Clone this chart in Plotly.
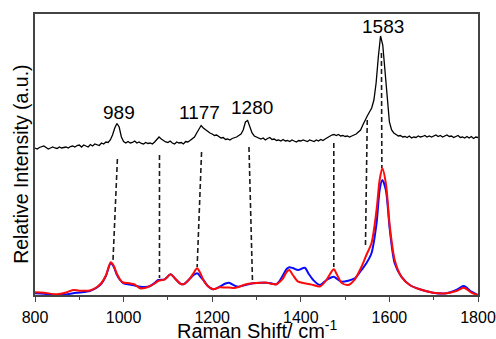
import plotly.graph_objects as go

# ---------------- data ----------------
# upper (black) spectrum, sampled every 5 cm-1 from 800 to 1800
top_x = list(range(800, 1801, 5))
top_y = [
    147, 146, 147.5, 148, 149, 147.5, 146, 147, 148, 147,
    146.5, 148, 147, 147.5, 148, 147, 148.5, 149, 148, 149.5,
    150, 148, 150, 149, 148, 150.5, 149, 151, 150, 149.5,
    152, 151, 153, 152.5, 155, 160, 167, 171.5, 168, 158,
    153.5, 152, 153.5, 152, 152.5, 154, 152, 153, 151.5, 151,
    152.5, 151.5, 152, 151, 153, 156, 158, 156, 154, 153,
    152.5, 154, 152, 151, 153, 152, 152.5, 151, 153.5, 153,
    154.5, 156, 158, 162, 166, 169.5, 167, 165, 163.5, 162,
    161, 159.5, 160, 158, 157, 157.5, 155.5, 156, 155, 156.5,
    157, 158, 159.5, 161, 165, 173, 174.5, 168, 162, 159,
    158, 157, 156, 157, 155, 156.5, 157.5, 155.5, 156, 154.5,
    155, 154, 155.5, 154, 154.5, 153.5, 155, 154, 153, 154.5,
    154, 155, 154, 153.5, 155, 154.5, 153.5, 155, 154, 155.5,
    154.5, 156, 157.5, 158.5, 160, 160.5, 159.5, 160.5, 159, 159.5,
    158.5, 159, 158, 159, 160, 161, 163, 165, 170, 175,
    179, 183, 187, 195, 212, 238, 259, 250, 224, 195,
    173, 165, 162, 160.5, 159, 159.5, 158, 158.5, 157.5, 159,
    157, 158, 157.5, 159, 158, 158.5, 159.5, 158, 159, 158,
    159, 160, 158.5, 159.5, 158, 159, 160, 158.5, 159, 157.5,
    158.5, 159.5, 157.5, 158, 157, 158.5, 157, 158.5, 156.5, 158,
    157.5,
]

# lower spectra (blue and red)
low_x = [800, 820, 850, 870, 886, 900, 924, 940, 950, 960,
         971, 978, 984, 992, 999, 1014, 1025, 1037, 1048, 1059,
         1070, 1078, 1093, 1106, 1115, 1127, 1135, 1150, 1158, 1166,
         1174, 1180, 1190, 1202, 1217, 1230, 1238, 1250, 1259, 1275,
         1292, 1310, 1323, 1335, 1345, 1352, 1360, 1368, 1374, 1382,
         1394, 1409, 1418, 1428, 1443, 1458, 1466, 1474.5, 1482, 1492,
         1507, 1522, 1537, 1548, 1559.5, 1571, 1578, 1584, 1592, 1601,
         1612, 1627, 1646, 1668.5, 1698.5, 1728.7, 1751, 1768, 1785, 1800]
blue_y = [1.7, 1.2, 0, 0.5, 1.7, 2.5, 4, 7.5, 11.5, 19,
          31.7, 28, 21, 15, 12, 10.5, 9.5, 8.3, 8, 8.8,
          12, 15, 15.7, 20.7, 17, 11.7, 10.7, 16.5, 20, 21.7,
          18, 15, 9, 5.7, 8.3, 11.5, 12.3, 9.5, 8.3, 10,
          11.7, 12.3, 12.3, 11.5, 10.7, 14, 20, 26, 27.7, 27,
          25, 27.3, 21, 15, 10, 15, 17, 18.3, 16, 13.3,
          14.3, 16.7, 25, 31.7, 41.7, 71.7, 105, 115, 105, 65,
          31.7, 18.3, 10, 5.7, 2.3, 1.7, 5, 9, 3.3, 0]
red_y = [2.7, 2.3, 0.7, 2.5, 5, 4.3, 4.5, 8, 12, 19.5,
         32.7, 29, 22, 15.5, 12.5, 11.7, 10.5, 6.7, 7, 9,
         11.5, 14, 15.7, 20.7, 17, 11.7, 10.7, 16.7, 22, 26.7,
         21, 15, 9, 5.7, 7.7, 7.5, 7.5, 7, 8, 10.5,
         11.7, 12.3, 12.3, 11, 10.7, 13, 16.7, 23, 25, 20,
         13.3, 11.7, 11, 10, 8.5, 15, 21, 25.7, 20, 12.3,
         10, 15.7, 28.3, 40, 51.7, 85, 115, 126.7, 111.7, 68.3,
         35, 18.3, 10, 5.7, 2.3, 1.7, 4, 7.3, 2.3, 0]

# dashed guide lines: (upper peak) -> (lower peak)
guide_top_x = [986, 1081, 1176, 1283, 1474.5, 1550, 1582]
guide_top_y = [136, 140, 143, 148, 152, 175, 242]
guide_bot_x = [976, 1081, 1166, 1291, 1474.5, 1546, 1583]
guide_bot_y = [34, 17, 28, 13, 28, 50, 127]

# peak labels
peak_labels = ["989", "1177", "1280", "1583"]
peak_label_x = [989.5, 1172, 1289, 1586]
peak_label_y = [182.3, 182.3, 187.7, 269]

x_ticks = [800, 1000, 1200, 1400, 1600, 1800]
x_title = "Raman Shift/ cm<sup>-1</sup>"
y_title = "Relative Intensity (a.u.)"

# ---------------- figure ----------------
FONT = "Liberation Sans, Arial, sans-serif"
fig = go.Figure()

for tx, ty, bx, by in zip(guide_top_x, guide_top_y, guide_bot_x, guide_bot_y):
    fig.add_trace(go.Scatter(
        x=[tx, bx], y=[ty, by], mode="lines",
        line=dict(color="#1a1a1a", width=1.6, dash="5px,3px"),
        showlegend=False, hoverinfo="skip"))

fig.add_trace(go.Scatter(x=top_x, y=top_y, mode="lines",
                         line=dict(color="black", width=1.3),
                         showlegend=False))
fig.add_trace(go.Scatter(x=low_x, y=blue_y, mode="lines",
                         line=dict(color="#0a0aff", width=2, shape="spline", smoothing=0.8),
                         showlegend=False))
fig.add_trace(go.Scatter(x=low_x, y=red_y, mode="lines",
                         line=dict(color="#ff0a0a", width=2, shape="spline", smoothing=0.8),
                         showlegend=False))

for lab, lx, ly in zip(peak_labels, peak_label_x, peak_label_y):
    fig.add_annotation(x=lx, y=ly, text=lab, showarrow=False,
                       font=dict(family=FONT, size=19, color="black"),
                       xanchor="center", yanchor="middle")

# axis titles placed as annotations
fig.add_annotation(x=0.5, y=-0.174, xref="paper", yref="paper",
                   text=x_title, showarrow=False,
                   xanchor="center", yanchor="bottom",
                   font=dict(family=FONT, size=20, color="black"))
fig.add_annotation(x=-0.0305, y=0.465, xref="paper", yref="paper",
                   text=y_title, showarrow=False, textangle=-90,
                   xanchor="center", yanchor="middle",
                   font=dict(family=FONT, size=19.5, color="black"))

fig.update_layout(
    width=496, height=339,
    margin=dict(l=35, r=18, t=14, b=44),
    paper_bgcolor="white", plot_bgcolor="white",
    font=dict(family=FONT, size=16, color="black"),
    showlegend=False,
)
fig.update_xaxes(
    range=[800, 1800], tickvals=x_ticks, ticktext=[str(v) for v in x_ticks],
    ticks="outside", ticklen=5, tickwidth=1.3, tickcolor="#444",
    minor=dict(dtick=100, tick0=800, ticks="outside", ticklen=3, tickwidth=1.1, tickcolor="#444"),
    showline=True, linecolor="#444", linewidth=1.5, mirror=True,
    showgrid=False, zeroline=False, automargin=False,
    ticklabeloverflow="allow", ticklabelstandoff=2,
    tickfont=dict(family=FONT, size=16, color="black"),
)
fig.update_yaxes(
    range=[0, 281], showticklabels=False, ticks="",
    showline=True, linecolor="#444", linewidth=1.5, mirror=True,
    showgrid=False, zeroline=False, automargin=False,
)

fig.write_html("out.html", config={"displayModeBar": False},
               post_script="document.body.style.margin='0';document.body.style.overflow='hidden';")
